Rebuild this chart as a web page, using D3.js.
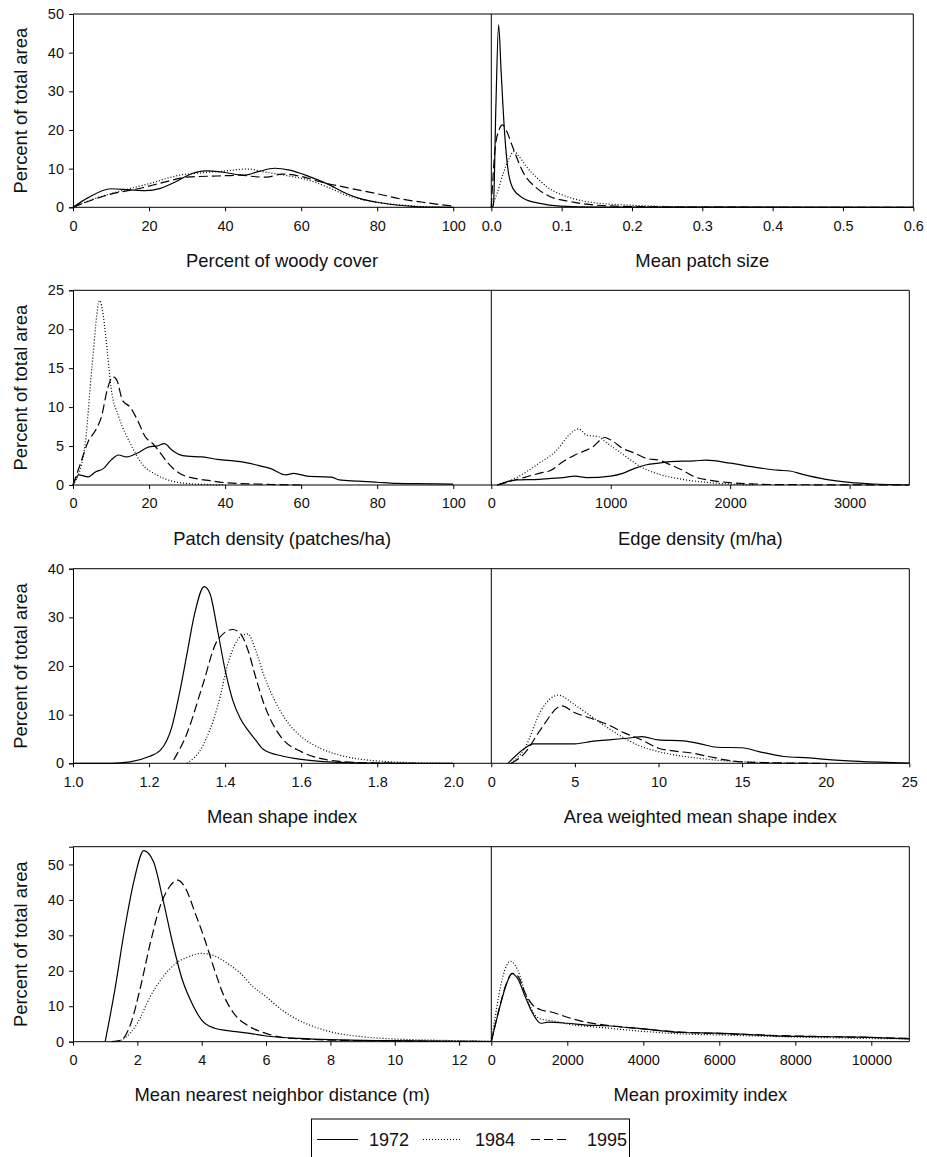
<!DOCTYPE html>
<html><head><meta charset="utf-8">
<script src="https://cdn.jsdelivr.net/npm/d3@7"></script>
<style>body{margin:0;background:#fff}svg{display:block}text{font-family:Arial,"Liberation Sans",sans-serif;fill:#111}</style>
</head><body><svg id="c" width="927" height="1157"></svg>
<script>
// ---------------- DATA ----------------
const years = ["1972", "1984", "1995"];
const yTitle = "Percent of total area";
const xTitles = ["Percent of woody cover","Mean patch size","Patch density (patches/ha)","Edge density (m/ha)","Mean shape index","Area weighted mean shape index","Mean nearest neighbor distance (m)","Mean proximity index"];

// Percent of woody cover
const woody1972 = [[0,0],[4,2.5],[10,4.8],[15,4.5],[19,4.3],[23,4.9],[27,6.6],[31,8.6],[35,9.4],[40,9.0],[45,8.3],[49,9.3],[53,10.1],[57,9.6],[62,8.0],[67,6.0],[72,3.5],[76,2.1],[80,1.3],[85,0.6],[90,0.2],[95,0.05],[100,0]];
const woody1984 = [[0,0],[5,2.0],[12,4.1],[20,6.1],[28,8.3],[35,9.0],[40,9.4],[46,9.9],[50,9.2],[55,8.4],[62,7.0],[67,5.2],[72,3.1],[78,1.6],[82,1.0],[88,0.45],[95,0.05],[100,0]];
const woody1995 = [[0,0],[5,1.9],[10,3.4],[18,5.0],[24,6.5],[30,7.8],[38,8.1],[44,8.3],[48,7.9],[51,7.8],[55,8.6],[60,8.0],[65,6.6],[72,5.1],[80,3.5],[86,2.2],[92,1.3],[100,0.3]];
// Mean patch size
const patch1972 = [[0,0],[0.003,0.5],[0.0065,26],[0.0104,47.2],[0.014,35],[0.019,19],[0.0245,8.8],[0.032,4.5],[0.046,2.3],[0.069,1.0],[0.098,0.3],[0.15,0.05],[0.6,0]];
const patch1984 = [[0,0],[0.008,3.5],[0.017,8.8],[0.025,12.5],[0.032,14.4],[0.04,13],[0.05,10.5],[0.065,7.6],[0.079,5.3],[0.107,2.8],[0.145,1.2],[0.192,0.6],[0.25,0.2],[0.3,0.05],[0.6,0]];
const patch1995 = [[0,0],[0.0057,15.7],[0.011,20],[0.016,21.3],[0.022,19.6],[0.032,14.8],[0.046,8.8],[0.065,4.9],[0.083,2.8],[0.112,1.5],[0.145,0.6],[0.2,0.2],[0.3,0.03],[0.6,0]];
// Patch density
const dens1972 = [[0,0],[1.5,1.3],[4,1.05],[6,1.7],[8,2.1],[10,3.2],[12,3.85],[14,3.6],[17,4.1],[20,4.9],[22,5.0],[24,5.3],[26,4.5],[28,3.9],[30,3.7],[34,3.6],[38,3.3],[44,3.0],[48,2.6],[52,2.1],[56,1.3],[58,1.5],[62,1.1],[66,1.05],[68,1.0],[70,0.65],[75,0.5],[80,0.35],[85,0.2],[90,0.17],[100,0.1]];
const dens1984 = [[0,0],[3,4.5],[5,15.2],[7,23.7],[8,21.6],[9,17.3],[10,12.5],[12,8.8],[15,5.4],[18,2.8],[22,1.3],[26,0.5],[30,0.2],[40,0]];
const dens1995 = [[0,0],[2,2.8],[4,5.6],[6,7.1],[7.5,8.8],[9,12.2],[10.5,13.9],[11.5,13.5],[13,10.9],[15,10.0],[17,8.3],[19,6.2],[21,5.3],[23,4.1],[25,2.8],[28,1.5],[32,0.86],[36,0.55],[40,0.3],[50,0.1],[60,0]];
// Edge density
const edge1972 = [[50,0],[200,0.64],[400,0.73],[500,0.86],[600,0.94],[700,1.15],[800,0.94],[1000,1.15],[1100,1.5],[1200,2.14],[1300,2.6],[1400,2.8],[1500,3.0],[1700,3.1],[1800,3.2],[2000,2.8],[2200,2.3],[2400,1.9],[2500,1.8],[2600,1.4],[2800,0.73],[3000,0.34],[3200,0.13],[3500,0]];
const edge1984 = [[50,0],[200,0.86],[400,2.8],[550,4.5],[650,6.4],[730,7.2],[800,6.4],[900,6.2],[950,5.6],[1050,4.5],[1150,3.4],[1250,2.35],[1400,1.4],[1600,0.73],[1800,0.34],[2000,0.13],[2200,0]];
const edge1995 = [[50,0],[200,0.64],[400,1.5],[500,1.9],[600,3.0],[700,3.85],[850,4.9],[950,6.1],[1000,5.8],[1100,4.7],[1200,4.1],[1300,3.4],[1400,3.2],[1500,2.6],[1600,1.9],[1700,1.07],[1850,0.56],[2000,0.3],[2200,0.13],[2400,0.05],[3500,0]];
// Mean shape index
const msi1972 = [[1.0,0],[1.1,0],[1.15,0.3],[1.2,1.4],[1.23,2.7],[1.26,7.5],[1.28,14.4],[1.3,22.6],[1.32,30.8],[1.345,36.3],[1.36,34.9],[1.38,27.4],[1.4,19.2],[1.42,13.0],[1.44,9.2],[1.46,6.8],[1.48,4.8],[1.5,2.9],[1.55,1.5],[1.6,0.8],[1.65,0.4],[1.7,0.2],[1.8,0.05],[2.0,0]];
const msi1984 = [[1.3,0],[1.34,3.4],[1.38,11.6],[1.41,21.2],[1.44,26.0],[1.46,26.6],[1.48,23.3],[1.5,18.5],[1.53,13.0],[1.56,8.9],[1.6,5.5],[1.65,3.1],[1.7,1.7],[1.75,0.9],[1.8,0.5],[1.9,0.1],[2.0,0]];
const msi1995 = [[1.265,0.7],[1.3,6.2],[1.34,15.8],[1.38,25.3],[1.42,27.5],[1.44,26.7],[1.46,23.3],[1.48,17.8],[1.5,12.7],[1.52,8.9],[1.55,5.1],[1.6,2.4],[1.65,1.0],[1.7,0.4],[1.75,0.15],[1.8,0.05],[1.9,0]];
// Area weighted mean shape index
const awmsi1972 = [[1,0],[2,3.1],[2.5,4.0],[4,4.0],[5,4.0],[6,4.5],[7,4.8],[8.5,5.3],[9,5.5],[10,4.8],[11.5,4.6],[12.5,4.0],[13.5,3.3],[15,3.2],[16,2.4],[17.5,1.4],[19,1.1],[20,0.8],[22,0.4],[25,0.05]];
const awmsi1984 = [[1.2,0],[2,3.1],[3,11.0],[4,14.0],[5,12.0],[6,9.6],[7,7.2],[8,5.1],[9,3.4],[10,2.4],[11,1.7],[12,1.2],[14,0.5],[16,0.2],[18,0.05],[20,0]];
const awmsi1995 = [[1.2,0],[2,2.1],[3,7.2],[4.2,11.8],[5,10.4],[6,9.2],[7,7.9],[8,6.2],[9,4.8],[10,3.1],[11,2.5],[12,2.1],[13,1.4],[14,0.7],[15,0.3],[17,0.1],[20,0]];
// Mean nearest neighbor distance
const mnn1972 = [[1.0,0],[1.3,14.6],[1.6,31.5],[1.9,45.6],[2.2,53.9],[2.5,50.8],[2.8,39.9],[3.1,27.7],[3.4,17.4],[3.7,10.8],[4.0,6.1],[4.4,3.8],[4.8,3.1],[5.5,2.35],[6,1.6],[7,0.94],[8,0.56],[10,0.28],[12,0.1],[13,0.05]];
const mnn1984 = [[1.3,0],[1.6,0.94],[2.0,5.2],[2.4,12.7],[2.8,18.3],[3.2,22.1],[3.6,24.0],[4.0,24.9],[4.4,24.2],[4.8,22.1],[5.2,19.3],[5.6,15.5],[6.0,12.7],[6.5,8.9],[7,6.1],[7.5,4.2],[8,2.8],[9,1.4],[10,0.75],[11,0.47],[12,0.28],[13,0.15]];
const mnn1995 = [[1.2,0],[1.5,0.5],[1.8,5.2],[2.1,15.5],[2.4,27.7],[2.7,38.0],[3.0,43.7],[3.25,45.6],[3.5,43.2],[3.8,36.2],[4.1,28.7],[4.4,20.2],[4.7,12.7],[5.0,8.0],[5.5,4.2],[6,2.35],[6.5,1.2],[7,0.85],[8,0.47],[10,0.2],[13,0.05]];
// Mean proximity index
const prox1972 = [[0,0],[200,8.8],[400,16.3],[550,19.2],[700,17.7],[900,12.5],[1100,7.8],[1300,5.2],[1500,5.5],[2000,5.2],[2500,4.7],[3000,4.5],[4000,3.6],[5000,2.6],[6000,2.4],[7000,1.9],[8000,1.5],[9000,1.4],[10000,1.2],[11000,0.8]];
const prox1984 = [[0,0],[100,6.9],[300,18.2],[500,22.7],[700,20.1],[900,13.5],[1100,8.3],[1300,6.4],[1600,5.9],[2000,5.0],[3000,3.9],[4000,2.9],[5000,2.2],[6000,1.9],[7000,1.6],[8000,1.3],[9000,1.1],[10000,0.9],[11000,0.8]];
const prox1995 = [[0,0],[200,9.0],[400,16.5],[550,19.3],[700,18.5],[900,13.5],[1100,10.2],[1300,9.0],[1600,8.3],[2000,6.9],[2500,5.5],[3000,4.7],[4000,3.6],[5000,2.7],[6000,2.3],[7000,1.9],[8000,1.6],[9000,1.4],[10000,1.2],[11000,0.9]];

// Tick values
const ticksWoody = [0,20,40,60,80,100];
const ticksPatch = [0,0.1,0.2,0.3,0.4,0.5,0.6];
const ticksDens = [0,20,40,60,80,100];
const ticksEdge = [0,1000,2000,3000];
const ticksMsi = [1.0,1.2,1.4,1.6,1.8,2.0];
const ticksAwmsi = [0,5,10,15,20,25];
const ticksMnn = [0,2,4,6,8,10,12];
const ticksProx = [0,2000,4000,6000,8000,10000];
const yTicksRow = [[0,10,20,30,40,50],[0,5,10,15,20,25],[0,10,20,30,40],[0,10,20,30,40,50]];
const yMaxRow = [50,25,40,55];
const xDomains = [[0,110],[0,0.6],[0,110],[0,3500],[1,2.1],[0,25],[0,13],[0,11000]];
const xTicks = [ticksWoody,ticksPatch,ticksDens,ticksEdge,ticksMsi,ticksAwmsi,ticksMnn,ticksProx];
const xFormats = [d3.format("d"),d3.format(".1f"),d3.format("d"),d3.format("d"),d3.format(".1f"),d3.format("d"),d3.format("d"),d3.format("d")];
const seriesByPanel = [[woody1972,woody1984,woody1995],[patch1972,patch1984,patch1995],[dens1972,dens1984,dens1995],[edge1972,edge1984,edge1995],[msi1972,msi1984,msi1995],[awmsi1972,awmsi1984,awmsi1995],[mnn1972,mnn1984,mnn1995],[prox1972,prox1984,prox1995]];

// ---------------- LAYOUT ----------------
const rowTop = [14,290.3,568.7,846.7];
const rowBot = [207.3,485,763.3,1041.7];
const xL = 73, xM = 491.3, xRs = [913.3,909.3,909.3,909.3];
const dashes = [null,"1,2","9,4"];

const svg = d3.select("#c");
const tickFont = "14.5px", titleFont = "18.4px";

for (let r = 0; r < 4; r++) {
  const y = d3.scaleLinear().domain([0,yMaxRow[r]]).range([rowBot[r],rowTop[r]]);
  const xR = xRs[r];
  const g = svg.append("g");
  g.append("line").attr("x1",xL).attr("x2",xR).attr("y1",rowTop[r]).attr("y2",rowTop[r]).attr("stroke","#000");
  g.append("line").attr("x1",xR).attr("x2",xR).attr("y1",rowTop[r]).attr("y2",rowBot[r]).attr("stroke","#000");
  g.append("line").attr("x1",xM).attr("x2",xM).attr("y1",rowTop[r]).attr("y2",rowBot[r]).attr("stroke","#000");
  const ya = g.append("g").attr("transform",`translate(${xL},0)`)
    .call(d3.axisLeft(y).tickValues(yTicksRow[r]).tickSize(4).tickPadding(5).tickFormat(d3.format("d")));
  ya.select(".domain").attr("stroke","#000");
  ya.selectAll("text").style("font-size",tickFont).attr("fill","#111");
  g.append("text").attr("transform",`translate(27,${(rowTop[r]+rowBot[r])/2}) rotate(-90)`)
    .attr("text-anchor","middle").style("font-size",titleFont).text(yTitle);

  for (let c = 0; c < 2; c++) {
    const p = r*2 + c;
    const x0 = c === 0 ? xL : xM, x1 = c === 0 ? xM : xR;
    const x = d3.scaleLinear().domain(xDomains[p]).range([x0,x1]);
    const xa = g.append("g").attr("transform",`translate(0,${rowBot[r]})`)
      .call(d3.axisBottom(x).tickValues(xTicks[p]).tickSize(4).tickPadding(9).tickFormat(xFormats[p]));
    xa.select(".domain").attr("d",`M${x0},0H${x1}`).attr("stroke","#000");
    xa.selectAll("text").style("font-size",tickFont).attr("fill","#111");
    g.append("text").attr("x",(x0+x1)/2).attr("y",rowBot[r]+59.5).attr("text-anchor","middle")
      .style("font-size",titleFont).text(xTitles[p]);
    const line = d3.line().x(d=>x(d[0])).y(d=>y(d[1])).curve(d3.curveMonotoneX);
    seriesByPanel[p].forEach((s,i) => {
      g.append("path").attr("d",line(s)).attr("fill","none").attr("stroke","#000")
        .attr("stroke-width",1.2).attr("stroke-dasharray",dashes[i]);
    });
  }
}

// Legend
const lg = svg.append("g");
lg.append("rect").attr("x",311.5).attr("y",1119).attr("width",318).attr("height",45).attr("fill","none").attr("stroke","#000");
const legItems = [{x1:317,x2:358,tx:369},{x1:423,x2:462,tx:475},{x1:531,x2:569,tx:587}];
years.forEach((yr,i) => {
  const it = legItems[i];
  lg.append("line").attr("x1",it.x1).attr("x2",it.x2).attr("y1",1139.5).attr("y2",1139.5)
    .attr("stroke","#000").attr("stroke-width",1.2).attr("stroke-dasharray",dashes[i]);
  lg.append("text").attr("x",it.tx).attr("y",1145.8).style("font-size","18px").text(yr);
});
</script></body></html>
